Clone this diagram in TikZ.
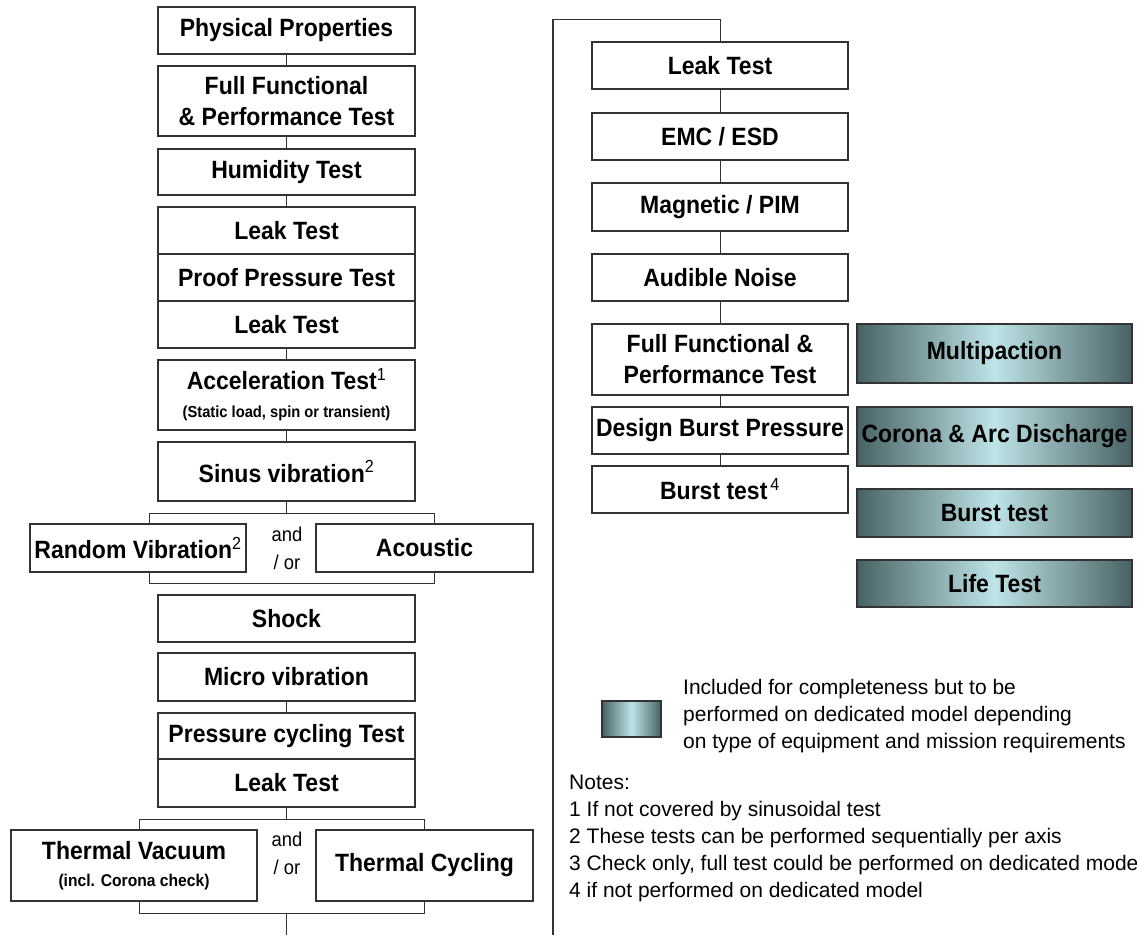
\documentclass[tikz,border=0pt]{standalone}
\usepackage{fontspec}
\setmainfont{Liberation Sans}
\newfontfamily\boxfamily{Liberation Sans}[FakeStretch=0.92]
\usetikzlibrary{positioning}
\definecolor{slatedark}{RGB}{72,98,100}
\definecolor{slatelight}{RGB}{190,228,231}
\newcommand{\boxfont}{\boxfamily\bfseries\fontsize{25}{31}\selectfont}
\newcommand{\subfont}{\boxfamily\bfseries\fontsize{16}{18}\selectfont}
\newcommand{\notefont}{\fontsize{21}{27}\selectfont}
\newcommand{\supnum}[1]{\textsuperscript{\mdseries#1}}

\begin{document}
\begin{tikzpicture}[x=1pt, y=-1pt,
test/.style={rectangle, draw=black!80, line width=1.3pt, fill=white, minimum width=257pt, inner sep=1pt, outer sep=0pt, align=center, font=\boxfont},
rtest/.style={test, minimum width=256pt},
extra/.style={rectangle, draw=black!80, line width=1.3pt, left color=slatedark, right color=slatedark, middle color=slatelight, minimum width=275pt, minimum height=59pt, inner sep=1pt, outer sep=0pt, font=\boxfont},
choice/.style={align=center, inner sep=0pt, font=\boxfamily\fontsize{20}{28}\selectfont},
conn/.style={draw=black!80, line width=1pt},
]
\useasboundingbox (0,0) rectangle (1137,935);

\node[test, minimum height=47pt] (phys) at (286.5,30.5) {Physical Properties};
\node[test, minimum height=70pt] (ffp) [below=12pt of phys] {Full Functional\\\& Performance Test};
\node[test, minimum height=46pt] (hum) [below=13pt of ffp] {Humidity Test};
\node[test, minimum height=47pt] (leaka) [below=12pt of hum] {Leak Test};
\node[test, minimum height=47pt] (proof) [below=0pt of leaka] {Proof Pressure Test};
\node[test, minimum height=47pt] (leakb) [below=0pt of proof] {Leak Test};
\node[test, minimum height=70pt] (accel) [below=12pt of leakb] {Acceleration Test\supnum{1}\\[-3pt]{\subfont (Static load, spin or transient)}};
\node[test, minimum height=59pt] (sinus) [below=12pt of accel] {Sinus vibration\supnum{2}};

\node[test, minimum width=216pt, minimum height=48pt] (rand) at (138,548) {Random Vibration\supnum{2}};
\node[test, minimum width=217pt, minimum height=48pt] (acou) at (424.5,548) {Acoustic};
\node[choice] (vibor) at (287,548) {and\\/ or};

\node[test, minimum height=47pt] (shock) [below=94pt of sinus] {Shock};
\node[test, minimum height=48pt] (micro) [below=11pt of shock] {Micro vibration};
\node[test, minimum height=46pt] (press) [below=12pt of micro] {Pressure cycling Test};
\node[test, minimum height=48pt] (leakc) [below=0pt of press] {Leak Test};

\node[test, minimum width=246pt, minimum height=71pt] (tvac) at (134,865.5) {Thermal Vacuum\\[-4pt]{\boxfamily\bfseries\fontsize{17}{20}\selectfont (incl. Corona check)}};
\node[test, minimum width=217pt, minimum height=71pt] (tcyc) at (424.5,865.5) {Thermal Cycling};
\node[choice] (thor) at (287,853) {and\\/ or};

\node[rtest, minimum height=47pt] (rleak) at (720,65.5) {Leak Test};
\node[rtest, minimum height=47pt] (emc) [below=24pt of rleak] {EMC / ESD};
\node[rtest, minimum height=48pt] (mag) [below=23pt of emc] {Magnetic / PIM};
\node[rtest, minimum height=47pt] (noise) [below=23pt of mag] {Audible Noise};
\node[rtest, minimum height=71pt] (rffp) [below=23pt of noise] {Full Functional \&\\Performance Test};
\node[rtest, minimum height=47pt] (dbp) [below=12pt of rffp] {Design Burst Pressure};
\node[rtest, minimum height=47pt] (burst) [below=12pt of dbp] {Burst test\kern3pt\supnum{4}};

\node[extra] (mpac) at (994.5,353.5) {Multipaction};
\node[extra] (corona) at (994.5,436.5) {Corona \& Arc Discharge};
\node[extra, minimum height=48pt] (gburst) at (994.5,513) {Burst test};
\node[extra, minimum height=47pt] (life) at (994.5,583.5) {Life Test};

\node[extra, minimum width=59pt, minimum height=36pt] (key) at (631.5,719) {};
\node[anchor=west, align=left, inner sep=0pt, font=\notefont] (keytext) at (683,716) {Included for completeness but to be\\performed on dedicated model depending\\on type of equipment and mission requirements};
\node[anchor=west, align=left, inner sep=0pt, font=\notefont] (notes) at (569,838) {Notes:\\1 If not covered by sinusoidal test\\2 These tests can be performed sequentially per axis\\3 Check only, full test could be performed on dedicated model\\4 if not performed on dedicated model};

\coordinate (vibtl) at (149,513);
\coordinate (vibtr) at (434,513);
\coordinate (vibbl) at (149,583);
\coordinate (vibbr) at (434,583);
\coordinate (thtl) at (139,819);
\coordinate (thtr) at (424,819);
\coordinate (thbl) at (139,913);
\coordinate (thbr) at (424,913);
\coordinate (leftend) at (286.5,935);
\coordinate (frametop) at (553,19);
\coordinate (framebot) at (553,935);

\draw[conn] (phys) -- (ffp);
\draw[conn] (ffp) -- (hum);
\draw[conn] (hum) -- (leaka);
\draw[conn] (leakb) -- (accel);
\draw[conn] (accel) -- (sinus);
\draw[conn] (sinus.south) -- (sinus.south |- vibtl);
\draw[conn] (rand.north -| vibtl) -- (vibtl) -- (vibtr) -- (acou.north -| vibtr);
\draw[conn] (rand.south -| vibbl) -- (vibbl) -- (vibbr) -- (acou.south -| vibbr);
\draw[conn] (micro) -- (press);
\draw[conn] (leakc.south) -- (leakc.south |- thtl);
\draw[conn] (tvac.north -| thtl) -- (thtl) -- (thtr) -- (tcyc.north -| thtr);
\draw[conn] (tvac.south -| thbl) -- (thbl) -- (thbr) -- (tcyc.south -| thbr);
\draw[conn] (leakc.south |- thbl) -- (leftend);

\draw[conn, line width=1.8pt] (framebot) -- (frametop);
\draw[conn] (frametop) -| (rleak.north);
\draw[conn] (rleak) -- (emc);
\draw[conn] (emc) -- (mag);
\draw[conn] (mag) -- (noise);
\draw[conn] (noise) -- (rffp);
\draw[conn] (rffp) -- (dbp);
\draw[conn] (dbp) -- (burst);
\end{tikzpicture}
\end{document}
